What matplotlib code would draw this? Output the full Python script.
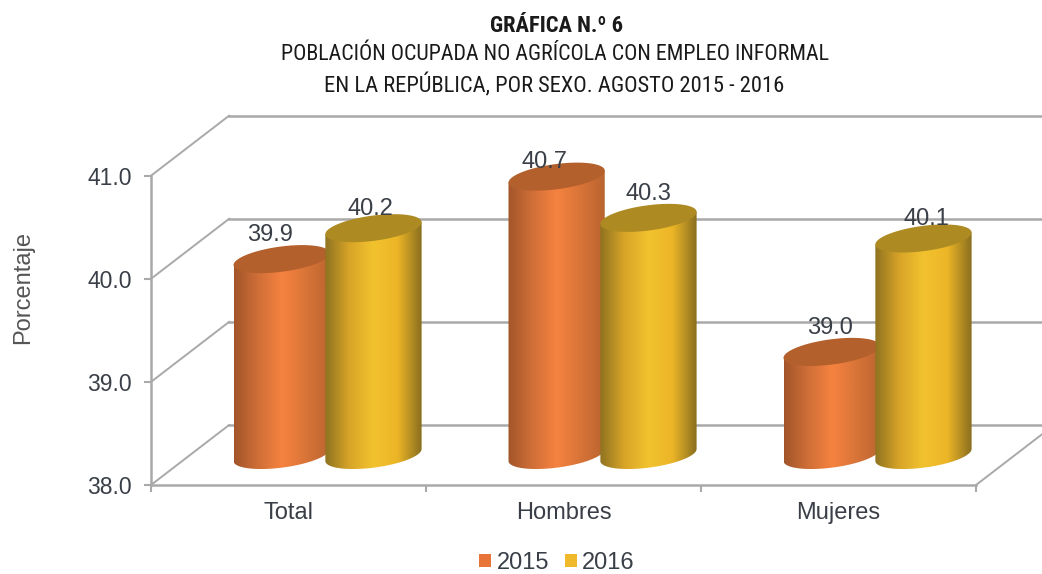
# -*- coding: utf-8 -*-
import numpy as np
import matplotlib
matplotlib.use('Agg')
import matplotlib.pyplot as plt
from matplotlib import font_manager as fm
from matplotlib.colors import LinearSegmentedColormap
from matplotlib.patches import Polygon, Patch

plt.rcParams['font.family'] = ['Liberation Sans', 'DejaVu Sans']

categories = ['Total', 'Hombres', 'Mujeres']
values_2015 = [39.9, 40.7, 39.0]
values_2016 = [40.2, 40.3, 40.1]
y_ticks = [38, 39, 40, 41]

# colors: (edge left, middle, edge right), top cap
orange = (['#a2552a', '#d06f38', '#f6823f', '#d87438', '#b9642f'], '#b4602c')
yellow = (['#8f7320', '#d8a428', '#f2c32e', '#ecb527', '#8a6f1f'], '#ad8a22')

W, H = 1042, 574
DEPTH_X, DEPTH_Y = 0.284, 0.582   # oblique offset of back wall
HALF_W, CAP_H, CAP_TILT = 0.175, 0.123, 0.058
SPACING = 0.167
GRID = '#a9a9a9'
TXT = '#3a3f47'

# the title is a condensed face in the original, not every machine has one
installed = {f.name for f in fm.fontManager.ttflist}
title_font, scale = 'Liberation Sans', 0.83
for name, s in [('Roboto Condensed', 1.0), ('Archivo Narrow', 1.0), ('PT Sans Narrow', 1.1)]:
    if name in installed:
        title_font, scale = name, s
        break

fig = plt.figure(figsize=(W / 100, H / 100), dpi=100)
ax = fig.add_axes([151 / W, 1 - 485 / H, (976 - 151) / W, (485 - 175.7) / H])


def cylinder(x, value, cols, cap):
    t = np.linspace(0, 2 * np.pi, 120)
    ex = x + HALF_W * np.cos(t)
    base = 38 + DEPTH_Y / 2
    ey = CAP_H * np.sin(t) + CAP_TILT * np.cos(t)
    # body outline: lower half of base ellipse then back across the top
    low = np.sin(t) <= 0
    order = np.argsort(ex[low])
    xs = ex[low][order]
    ys = base + ey[low][order]
    body_x = np.r_[xs, x + HALF_W, x - HALF_W]
    body_y = np.r_[ys, value + DEPTH_Y / 2 + CAP_TILT, value + DEPTH_Y / 2 - CAP_TILT]
    body = Polygon(np.c_[body_x, body_y], closed=True, transform=ax.transData,
                   fc='none', ec='none', zorder=3)
    ax.add_patch(body)
    cmap = LinearSegmentedColormap.from_list('c', cols)
    im = ax.imshow(np.linspace(0, 1, 200)[None, :], cmap=cmap, aspect='auto',
                   extent=[x - HALF_W, x + HALF_W, 37.5, 41.5], zorder=3)
    im.set_clip_box(fig.bbox)
    im.set_clip_path(body)
    ax.fill(ex, value + DEPTH_Y / 2 + ey, color=cap, lw=0, zorder=3, clip_on=False)


# back wall and side lines
for v in y_ticks:
    ax.plot([-0.5, -0.5 + DEPTH_X], [v, v + DEPTH_Y], color=GRID, lw=1.4, clip_on=False, zorder=1)
    ax.plot([-0.5 + DEPTH_X, 2.5 + DEPTH_X], [v + DEPTH_Y, v + DEPTH_Y], color=GRID, lw=1.8,
            clip_on=False, zorder=1)
ax.plot([2.5, 2.5 + DEPTH_X], [38, 38 + DEPTH_Y], color=GRID, lw=1.4, clip_on=False, zorder=1)

for i in range(len(categories)):
    mid = i + DEPTH_X / 2
    cylinder(mid - SPACING, values_2015[i], orange[0], orange[1])
    cylinder(mid + SPACING, values_2016[i], yellow[0], yellow[1])

# value labels sit a bit off the bar centre, as in the original
offs_2015 = [(-12, 24), (-12, 15), (-2, 24)]
offs_2016 = [(-3, 19), (0, 24), (3, 19)]
for i in range(len(categories)):
    mid = i + DEPTH_X / 2
    for v, x, off in [(values_2015[i], mid - SPACING, offs_2015[i]),
                      (values_2016[i], mid + SPACING, offs_2016[i])]:
        ax.annotate('%.1f' % v, (x, v + DEPTH_Y / 2), xytext=off, textcoords='offset pixels',
                    ha='center', va='center', fontsize=17, color=TXT, zorder=4,
                    annotation_clip=False)

ax.set_xlim(-0.5, 2.5)
ax.set_ylim(38, 41)
ax.patch.set_alpha(0)
for s in ['top', 'right']:
    ax.spines[s].set_visible(False)
for s in ['left', 'bottom']:
    ax.spines[s].set_color(GRID)
    ax.spines[s].set_linewidth(1.8)
ax.set_yticks(y_ticks)
ax.set_yticklabels(['%.1f' % v for v in y_ticks], fontsize=16.5, color=TXT)
ax.set_xticks(np.arange(-0.5, 3, 1))
ax.set_xticklabels([])
ax.set_xticks(range(len(categories)), minor=True)
ax.set_xticklabels(categories, minor=True, fontsize=17, color=TXT)
ax.tick_params(axis='both', which='major', color=GRID, length=5, width=1.5)
ax.tick_params(axis='y', pad=9)
ax.tick_params(axis='x', which='minor', length=0, pad=12)
ax.set_ylabel('Porcentaje', fontsize=17, color='#555555')
ax.yaxis.set_label_coords((34 - 151) / (976 - 151), 0.637)

handles = [Patch(fc='#e8743a', lw=0, label='2015'), Patch(fc='#f0b92b', lw=0, label='2016')]
fig.legend(handles=handles, loc='center', bbox_to_anchor=(557 / W, 1 - 563 / H), ncol=2,
           frameon=False, fontsize=17, labelcolor=TXT, handlelength=0.5, handleheight=0.5,
           handletextpad=0.22, columnspacing=0.68, borderpad=0)

fig.text(556 / W, 1 - 26 / H, 'GRÁFICA N.º 6', ha='center', va='center', fontsize=16.2 * scale,
         fontweight='bold', family=title_font, color='#1a1a1a')
fig.text(555 / W, 1 - 55 / H, 'POBLACIÓN OCUPADA NO AGRÍCOLA CON EMPLEO INFORMAL', ha='center',
         va='center', fontsize=15.8 * scale, family=title_font, color='#1a1a1a')
fig.text(554.5 / W, 1 - 85 / H, 'EN LA REPÚBLICA, POR SEXO. AGOSTO 2015 - 2016', ha='center',
         va='center', fontsize=16.2 * scale, family=title_font, color='#1a1a1a')

fig.savefig('out.png', dpi=100)
